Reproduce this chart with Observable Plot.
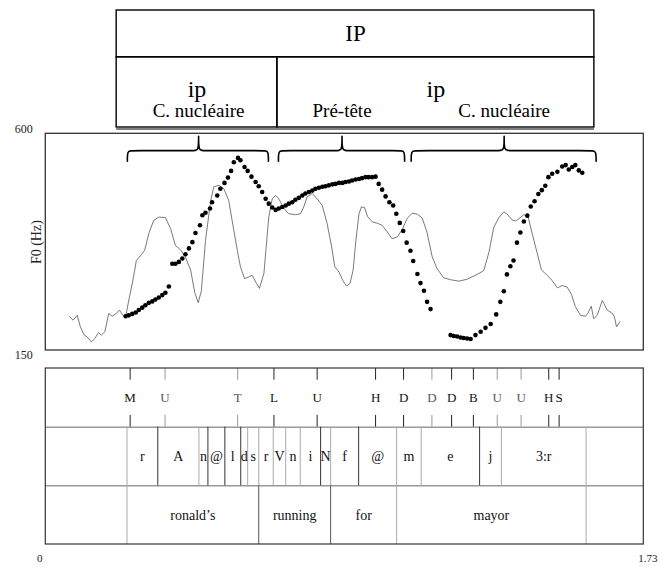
<!DOCTYPE html>
<html><head><meta charset="utf-8">
<script src="https://cdn.jsdelivr.net/npm/d3@7"></script>
<script src="https://cdn.jsdelivr.net/npm/@observablehq/plot@0.6"></script>
<style>
html,body{margin:0;padding:0;background:#fff;}
#chart{position:relative;width:663px;height:566px;overflow:hidden;background:#fff;}
#chart svg{position:absolute;left:0;top:0;}
</style></head><body><div id="chart"></div>
<script>
// ---------- data ----------
const timeDomain = [0, 1.73];
const f0Domain = [150, 600];

// F0 track (dots): time (s), F0 (Hz)
const f0Time = [0.231,0.240,0.250,0.260,0.269,0.279,0.288,0.298,0.308,0.317,0.327,0.337,0.346,0.356,
 0.366,0.375,0.385,0.395,0.404,0.414,0.424,0.433,0.446,0.453,0.462,0.475,0.481,0.496,0.505,0.517,0.527,0.536,0.544,0.556,0.563,0.575,0.584,0.595,0.607,0.616,0.626,0.636,0.645,0.655,
 0.665,0.674,0.684,0.694,0.703,0.713,0.722,0.732,0.742,0.751,0.761,0.771,0.780,0.790,0.800,0.809,0.819,0.829,0.838,0.848,0.858,0.867,0.877,0.886,0.896,0.906,0.915,0.925,0.934,0.944,0.954,
 0.963,0.973,0.983,0.994,1.005,1.014,1.024,1.034,1.044,1.055,1.063,1.075,1.084,1.094,1.103,1.113,
 1.171,1.180,1.190,1.200,1.209,1.219,1.229,1.243,1.258,1.272,1.287,1.303,1.315,1.325,1.334,1.344,1.353,1.363,1.373,1.383,1.393,1.403,1.414,1.425,1.435,1.445,1.454,1.465,1.480,1.494,1.504,1.513,1.523,1.532,1.542,1.552];
const f0Hz = [221,223,226,229,234,239,244,249,252,256,260,265,270,283,
 330,330,334,341,350,362,375,394,410,431,436,445,458,472,486,498,509,523,541,550,545,531,523,511,500,491,479,465,455,447,
 442,445,448,451,455,458,463,467,472,476,479,482,486,488,490,491,493,495,496,498,498,500,501,503,505,506,508,510,510,510,511,
 496,484,470,458,451,434,415,398,374,357,336,309,290,274,251,236,
 182,180,179,177,176,175,174,182,189,197,205,225,251,273,308,325,337,374,395,418,430,449,460,475,483,492,510,517,521,532,535,526,531,535,524,519];

// thin grey contour (drawn in the panel's units)
const contourTime = [0.069,0.079,0.091,0.100,0.110,0.120,0.132,0.142,0.152,0.161,0.171,0.182,0.192,0.204,0.213,0.223,0.231,0.242,0.252,0.262,
 0.271,0.286,0.298,0.312,0.327,0.346,0.361,0.375,0.390,0.404,0.419,0.431,0.441,0.450,0.462,0.477,0.486,0.501,0.515,0.529,
 0.539,0.554,0.563,0.575,0.587,0.597,0.610,0.618,0.631,0.645,0.655,0.665,0.674,0.689,0.703,0.722,0.737,0.746,0.756,0.771,
 0.785,0.800,0.814,0.827,0.836,0.848,0.859,0.870,0.880,0.889,0.897,0.906,0.913,0.922,0.931,0.945,0.960,0.973,0.988,1.002,
 1.017,1.031,1.046,1.060,1.075,1.089,1.103,1.118,1.132,1.151,1.171,1.195,1.219,1.248,1.267,1.282,1.296,1.311,1.325,1.335,
 1.349,1.359,1.373,1.383,1.395,1.407,1.422,1.434,1.451,1.465,1.480,1.494,1.508,1.521,1.532,1.547,1.561,1.568,1.578,1.585,
 1.595,1.610,1.624,1.639,1.645,1.651,1.661];
const contourValue = [220,213,223,199,183,178,168,175,187,182,189,227,221,227,234,223,221,261,296,337,
 344,358,393,420,427,426,403,368,359,344,317,270,249,274,378,461,490,493,486,462,
 420,358,324,299,303,306,289,279,310,427,465,472,465,445,434,432,434,448,469,476,
 465,451,413,365,324,313,296,284,289,317,378,434,448,447,428,417,414,410,396,382,
 386,401,425,435,433,425,395,344,320,301,297,294,298,308,316,354,406,426,438,433,
 421,419,426,432,428,393,351,317,306,295,280,285,282,266,241,223,221,227,242,216,
 223,254,234,227,220,199,210];

// braces over the F0 track
const braceStart = [0.236, 0.673, 1.057];
const braceEnd   = [0.644, 1.038, 1.592];
const braceMid   = [0.442, 0.857, 1.326];

// prosodic box
const phraseLabel = "IP";
const phraseSpan = [0.205, 1.587];
const ipBounds = [0.205, 0.670, 1.587];
const ipLabels = ["ip", "ip"];
const partLabels = ["C. nucléaire", "Pré-tête", "C. nucléaire"];

// tiers
const toneLabels = ["M","U","T","L","U","H","D","D","D","B","U","U","H","S"];
const toneTimes  = [0.244,0.345,0.555,0.660,0.785,0.954,1.035,1.117,1.174,1.237,1.306,1.375,1.455,1.485];
const phoneLabels = ["r","A","n","@","l","d","s","r","V","n","i","N","f","@","m","e","j","3:r"];
const phoneStart  = [0.235,0.324,0.443,0.469,0.518,0.564,0.584,0.616,0.658,0.694,0.736,0.795,0.824,0.905,1.015,1.086,1.255,1.318];
const phoneEnd    = [0.324,0.443,0.469,0.518,0.564,0.584,0.616,0.658,0.694,0.736,0.795,0.824,0.905,1.015,1.086,1.255,1.318,1.563];
const wordLabels = ["ronald’s","running","for","mayor"];
const wordStart  = [0.235,0.616,0.824,1.015];
const wordEnd    = [0.616,0.824,1.015,1.563];
const xTickLabels = ["0", "1.73"];

// ---------- drawing ----------
const W = 663, H = 566;
const serif = "Liberation Serif, Times New Roman, serif";
const xOpt = {domain: timeDomain, range: [45.3, 643.3], axis: null};
const common = {width: W, height: H, margin: 0, style: {background: "transparent", fontFamily: serif, color: "#000"}};
const chart = document.getElementById("chart");

// 1) IP box
const ipSpans = ipLabels.map((l, i) => ({label: l, x1: ipBounds[i], x2: ipBounds[i + 1]}));
const partX = braceMid;
chart.appendChild(Plot.plot({
  ...common,
  x: xOpt,
  y: {domain: [0, 5], range: [127, 10], axis: null},
  marks: [
    Plot.rect([phraseSpan], {x1: d => d[0], x2: d => d[1], y1: 3, y2: 5, fill: "none", stroke: "#000", strokeWidth: 1.4}),
    Plot.rect(ipSpans, {x1: "x1", x2: "x2", y1: 0, y2: 3, fill: "none", stroke: "#000", strokeWidth: 1.4}),
    Plot.ruleY([0], {x1: phraseSpan[0], x2: phraseSpan[1], stroke: "#000", strokeWidth: 1.2, dy: 1.5}),
    Plot.text([phraseLabel], {x: (phraseSpan[0] + phraseSpan[1]) / 2, y: 4, text: d => d, fontSize: 23, fill: "#000"}),
    Plot.text(ipSpans, {x: d => (d.x1 + d.x2) / 2, y: 1.62, text: "label", fontSize: 24, fill: "#000"}),
    Plot.text(partLabels, {x: (d, i) => partX[i], y: 0.7, text: d => d, fontSize: 19, fill: "#000"})
  ]
}));

// 2) F0 panel
const dots = f0Time.map((t, i) => ({t, hz: f0Hz[i]}));
const contour = contourTime.map((t, i) => ({t, v: contourValue[i]}));
const bTop = 565, bFoot = 543, bPeak = 596, e = 0.012;
const bracePts = braceStart.flatMap((s, i) => {
  const m = braceMid[i], en = braceEnd[i];
  return [[s,bFoot],[s,bFoot],[s,bTop],[s+e,bTop],[m-e,bTop],[m,bTop],[m,bPeak],[m,bPeak],[m,bTop],[m+e,bTop],[en-e,bTop],[en,bTop],[en,bFoot],[en,bFoot]]
    .map(([x, y]) => ({x, y, g: i}));
});
chart.appendChild(Plot.plot({
  ...common,
  x: xOpt,
  y: {domain: f0Domain, range: [350, 133.3], axis: null},
  marks: [
    Plot.line(contour, {x: "t", y: "v", stroke: "#6a6a6a", strokeWidth: 0.9}),
    Plot.dot(dots, {x: "t", y: "hz", r: 2.3, fill: "#000", stroke: "none"}),
    Plot.line(bracePts, {x: "x", y: "y", z: "g", curve: "basis", stroke: "#000", strokeWidth: 1.6}),
    Plot.rect([f0Domain], {x1: timeDomain[0], x2: timeDomain[1], y1: d => d[0], y2: d => d[1], fill: "none", stroke: "#333", strokeWidth: 1.3}),
    Plot.text([f0Domain[1]], {x: timeDomain[0], y: d => d, text: d => String(d), dx: -22, dy: -5, fontSize: 12, fill: "#222"}),
    Plot.text([f0Domain[0]], {x: timeDomain[0], y: d => d, text: d => String(d), dx: -22, dy: 5, fontSize: 12, fill: "#222"}),
    Plot.text(["F0 (Hz)"], {x: timeDomain[0], y: (f0Domain[0] + f0Domain[1]) / 2, text: d => d, rotate: -90, dx: -9, fontSize: 14, fill: "#222"})
  ]
}));

// 3) annotation tiers
const lightTones = new Set([1, 2, 7, 10, 11]);
const darkPhoneBounds = new Set([0.324, 0.469, 0.518, 0.564, 0.795, 0.905, 1.255]);
const phoneBounds = [phoneStart[0], ...phoneEnd];
const wordBounds = [wordStart[0], ...wordEnd];
const darkWordBounds = new Set([0.616, 0.824]);
const tones = toneTimes.map((t, i) => ({t, label: toneLabels[i], light: lightTones.has(i)}));
const phones = phoneLabels.map((l, i) => ({label: l, mid: (phoneStart[i] + phoneEnd[i]) / 2}));
const words = wordLabels.map((l, i) => ({label: l, mid: (wordStart[i] + wordEnd[i]) / 2}));
chart.appendChild(Plot.plot({
  ...common,
  x: xOpt,
  y: {domain: [0, 3], range: [544, 368], axis: null},
  marks: [
    Plot.ruleY([1, 2], {x1: timeDomain[0], x2: timeDomain[1], stroke: "#666", strokeWidth: 1}),
    Plot.ruleX(phoneBounds.filter(b => !darkPhoneBounds.has(b)), {y1: 1, y2: 2, stroke: "#aaa", strokeWidth: 1}),
    Plot.ruleX(phoneBounds.filter(b => darkPhoneBounds.has(b)), {y1: 1, y2: 2, stroke: "#333", strokeWidth: 1}),
    Plot.ruleX(wordBounds.filter(b => !darkWordBounds.has(b)), {y1: 0, y2: 1, stroke: "#aaa", strokeWidth: 1}),
    Plot.ruleX(wordBounds.filter(b => darkWordBounds.has(b)), {y1: 0, y2: 1, stroke: "#555", strokeWidth: 1}),
    Plot.ruleX(tones, {x: "t", y1: 3, y2: 2.8, stroke: d => d.light ? "#999" : "#222", strokeWidth: 1}),
    Plot.ruleX(tones, {x: "t", y1: 2.2, y2: 2, stroke: d => d.light ? "#999" : "#222", strokeWidth: 1}),
    Plot.text(tones, {x: "t", y: 2.5, text: "label", fontSize: 13, fill: d => d.light ? "#555" : "#111"}),
    Plot.text(phones, {x: "mid", y: 1.5, text: "label", fontSize: 14, fill: "#111"}),
    Plot.text(words, {x: "mid", y: 0.5, text: "label", fontSize: 14, fill: "#111"}),
    Plot.rect([timeDomain], {x1: d => d[0], x2: d => d[1], y1: 0, y2: 3, fill: "none", stroke: "#333", strokeWidth: 1.2}),
    Plot.text([xTickLabels[0]], {x: timeDomain[0], y: 0, text: d => d, dx: -6, dy: 14, fontSize: 11, fill: "#222"}),
    Plot.text([xTickLabels[1]], {x: timeDomain[1], y: 0, text: d => d, dx: 4, dy: 14, fontSize: 11, fill: "#222"})
  ]
}));
</script></body></html>
